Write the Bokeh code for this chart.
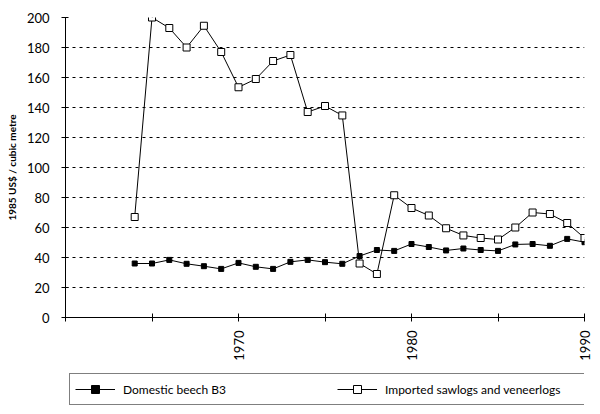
from bokeh.plotting import figure
from bokeh.models import FixedTicker, Legend, LegendItem, Range1d
from bokeh.layouts import column
from bokeh.embed import file_html
from bokeh.resources import INLINE

years = list(range(1964, 1991))
domestic = [36, 36, 38.4, 35.8, 34.2, 32.4, 36.4, 33.8, 32.4, 37.1, 38.4, 36.9, 35.8,
            41, 45, 44.4, 49, 47, 44.7, 46, 45, 44.4, 48.7, 49, 47.8, 52.4, 50.2]
imported = [67, 200, 193, 180, 194.5, 177, 153.5, 159, 171, 175, 137, 141, 134.7,
            36, 29, 81.5, 73, 68, 59.5, 54.7, 53, 52, 60, 70, 69, 63, 53]
series_names = ["Domestic beech B3", "Imported sawlogs and veneerlogs"]
x_ticks = [1960, 1965, 1970, 1975, 1980, 1985, 1990]
x_labels = {1960: "", 1965: "", 1970: "1970", 1975: "", 1980: "1980", 1985: "", 1990: "1990"}
y_ticks = [0, 20, 40, 60, 80, 100, 120, 140, 160, 180, 200]

FONT = "Lato"

p = figure(width=600, height=373, output_backend="svg", toolbar_location=None,
           x_range=Range1d(1960, 1990), y_range=Range1d(0, 200),
           min_border_left=65, min_border_right=16, min_border_top=17, min_border_bottom=56)
p.outline_line_color = None
p.background_fill_color = "white"
p.border_fill_color = "white"

p.xaxis.ticker = FixedTicker(ticks=x_ticks)
p.xaxis.major_label_overrides = x_labels
p.xaxis.major_label_orientation = 1.5708
p.xaxis.major_tick_in = 4
p.xaxis.major_tick_out = 4
p.xaxis.minor_tick_line_color = None
p.xaxis.axis_line_color = "black"
p.xaxis.major_tick_line_color = "black"
p.xaxis.major_label_text_font = FONT
p.xaxis.major_label_text_font_size = "13px"
p.xaxis.major_label_text_color = "black"
p.xaxis.major_label_standoff = 9

p.yaxis.ticker = FixedTicker(ticks=y_ticks)
p.yaxis.major_tick_in = 3
p.yaxis.major_tick_out = 4
p.yaxis.minor_tick_line_color = None
p.yaxis.axis_line_color = "black"
p.yaxis.major_tick_line_color = "black"
p.yaxis.major_label_text_font = FONT
p.yaxis.major_label_text_font_size = "13px"
p.yaxis.major_label_text_color = "black"
p.yaxis.major_label_standoff = 12
p.yaxis.axis_label = "1985 US$ / cubic metre"
p.yaxis.axis_label_text_font = FONT
p.yaxis.axis_label_text_font_size = "10px"
p.yaxis.axis_label_text_font_style = "bold"
p.yaxis.axis_label_text_color = "black"
p.yaxis.axis_label_standoff = 6

p.xgrid.grid_line_color = None
p.ygrid.grid_line_color = "black"
p.ygrid.grid_line_dash = "3 4"
p.ygrid.grid_line_width = 1

p.line(years, domestic, line_color="black", line_width=1)
p.scatter(years, domestic, marker="square", size=5, fill_color="black", line_color="black")
p.line(years, imported, line_color="black", line_width=1)
p.scatter(years, imported, marker="square", size=7, fill_color="white", line_color="black")

# legend figure below the chart (its renderers hold points outside its view)
lg = figure(width=600, height=41, output_backend="svg", toolbar_location=None,
            x_axis_location=None, y_axis_location=None,
            x_range=Range1d(0, 1), y_range=Range1d(0, 1),
            min_border_left=0, min_border_right=0, min_border_top=0, min_border_bottom=0)
lg.grid.visible = False
lg.outline_line_color = None
lg.border_fill_color = "white"
off = [5, 6]
l1 = lg.line(off, off, line_color="black", line_width=1)
m1 = lg.scatter(off, off, marker="square", size=5, fill_color="black", line_color="black")
l2 = lg.line(off, off, line_color="black", line_width=1)
m2 = lg.scatter(off, off, marker="square", size=7, fill_color="white", line_color="black")

legend = Legend(items=[LegendItem(label=series_names[0], renderers=[l1, m1]),
                       LegendItem(label=series_names[1], renderers=[l2, m2])],
                orientation="horizontal", location=(4, 9))
legend.glyph_width = 40
legend.glyph_height = 20
legend.label_width = 200
legend.spacing = 14
legend.padding = 5
legend.label_standoff = 8
legend.label_text_font = FONT
legend.label_text_font_size = "12px"
legend.label_text_color = "black"
legend.border_line_color = "black"
legend.border_line_width = 1
legend.background_fill_alpha = 1
legend.margin = 0
lg.add_layout(legend)

open("out.html", "w").write(file_html(column(p, lg), INLINE))
